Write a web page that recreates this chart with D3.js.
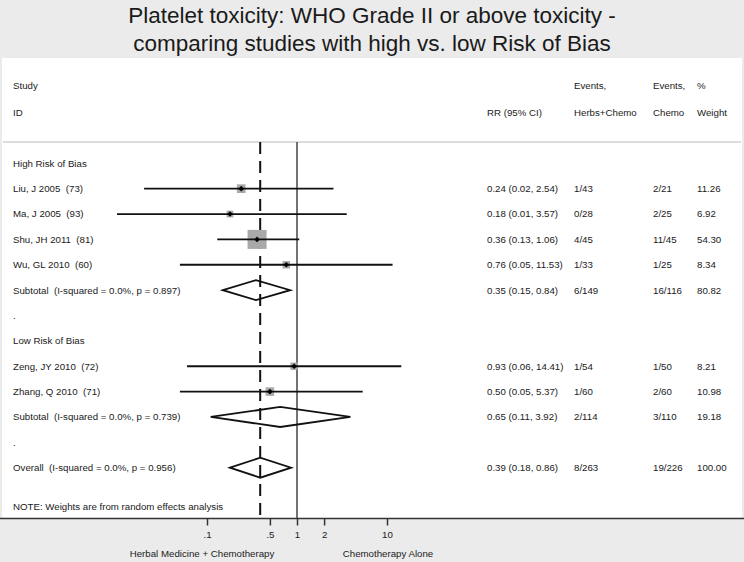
<!DOCTYPE html>
<html>
<head>
<meta charset="utf-8">
<script src="https://cdn.jsdelivr.net/npm/d3@7"></script>
<style>
  html, body { margin: 0; padding: 0; background: #ebebeb; }
  svg { display: block; }
  text { font-family: "Liberation Sans", Arial, Helvetica, sans-serif; fill: #1a1a1a; white-space: pre; }
</style>
</head>
<body>
<svg id="chart" width="744" height="562"></svg>
<script>
// ---------- data ----------
const titleLines = ["Platelet toxicity: WHO Grade II or above toxicity -", "comparing studies with high vs. low Risk of Bias"];
const studies   = ["Liu, J 2005  (73)", "Ma, J 2005  (93)", "Shu, JH 2011  (81)", "Wu, GL 2010  (60)", "Zeng, JY 2010  (72)", "Zhang, Q 2010  (71)"];
const studyGroup = [0, 0, 0, 0, 1, 1];
const rr        = [0.24, 0.18, 0.36, 0.76, 0.93, 0.50];
const rrLow     = [0.02, 0.01, 0.13, 0.05, 0.06, 0.05];
const rrHigh    = [2.54, 3.57, 1.06, 11.53, 14.41, 5.37];
const eventsHC  = ["1/43", "0/28", "4/45", "1/33", "1/54", "1/60"];
const eventsC   = ["2/21", "2/25", "11/45", "1/25", "1/50", "2/60"];
const weights   = [11.26, 6.92, 54.30, 8.34, 8.21, 10.98];

const groupNames   = ["High Risk of Bias", "Low Risk of Bias"];
const subLabels    = ["Subtotal  (I-squared = 0.0%, p = 0.897)", "Subtotal  (I-squared = 0.0%, p = 0.739)"];
const subRR        = [0.35, 0.65];
const subLow       = [0.15, 0.11];
const subHigh      = [0.84, 3.92];
const subEventsHC  = ["6/149", "2/114"];
const subEventsC   = ["16/116", "3/110"];
const subWeights   = [80.82, 19.18];

const overallLabel = "Overall  (I-squared = 0.0%, p = 0.956)";
const overallRR = 0.39, overallLow = 0.18, overallHigh = 0.86;
const overallEventsHC = "8/263", overallEventsC = "19/226", overallWeight = 100.00;

const tickValues = [0.1, 0.5, 1, 2, 10];
const tickLabels = [".1", ".5", "1", "2", "10"];
const favourLeft = "Herbal Medicine + Chemotherapy";
const favourRight = "Chemotherapy Alone";
const noteText = "NOTE: Weights are from random effects analysis";

// ---------- helpers ----------
const fmt = d3.format(".2f");
const ciText = (e, l, h) => `${fmt(e)} (${fmt(l)}, ${fmt(h)})`;

// build rows
const rows = [];
groupNames.forEach((g, gi) => {
  rows.push({type: "group", label: g});
  studies.forEach((s, i) => {
    if (studyGroup[i] === gi) rows.push({type: "study", label: s, est: rr[i], lo: rrLow[i], hi: rrHigh[i], ehc: eventsHC[i], ec: eventsC[i], w: weights[i]});
  });
  rows.push({type: "sub", label: subLabels[gi], est: subRR[gi], lo: subLow[gi], hi: subHigh[gi], ehc: subEventsHC[gi], ec: subEventsC[gi], w: subWeights[gi]});
  rows.push({type: "blank", label: "."});
});
rows.push({type: "sub", label: overallLabel, est: overallRR, lo: overallLow, hi: overallHigh, ehc: overallEventsHC, ec: overallEventsC, w: overallWeight});

// ---------- layout ----------
const W = 744, H = 562;
const svg = d3.select("#chart");
const fs = 9.7;

const x = d3.scaleLog().domain([0.1, 10]).range([207, 387]);
const y = d3.scaleLinear().domain([0, rows.length - 1]).range([163.3, 467.7]);
const boxSize = d3.scaleSqrt().domain([0, d3.max(weights)]).range([0, 19]);

const topBand = 58, axisY = 518.5, sepY = 142;

// white panel
svg.append("rect").attr("x", 2).attr("y", topBand).attr("width", W - 4).attr("height", axisY - topBand).attr("fill", "#fff");

// title
svg.selectAll("text.title").data(titleLines).join("text")
  .attr("class", "title")
  .attr("x", W / 2).attr("y", (d, i) => 15 + i * 27.5)
  .attr("dy", "0.36em")
  .attr("text-anchor", "middle")
  .style("font-size", "22.5px")
  .text(d => d);

// header
const colRR = 487, colHC = 574, colC = 653, colW = 697, colStudy = 13;
const headers = [
  {x: colStudy, y: 86, t: "Study"}, {x: colStudy, y: 113, t: "ID"},
  {x: colRR, y: 113, t: "RR (95% CI)"},
  {x: colHC, y: 86, t: "Events,"}, {x: colHC, y: 113, t: "Herbs+Chemo"},
  {x: colC, y: 86, t: "Events,"}, {x: colC, y: 113, t: "Chemo"},
  {x: colW, y: 86, t: "%"}, {x: colW, y: 113, t: "Weight"}
];
svg.selectAll("text.hdr").data(headers).join("text")
  .attr("class", "hdr").attr("x", d => d.x).attr("y", d => d.y).attr("dy", "0.35em")
  .style("font-size", fs + "px").text(d => d.t);

// separator
svg.append("line").attr("x1", 3).attr("x2", 741).attr("y1", sepY).attr("y2", sepY)
  .attr("stroke", "#b8b8b8").attr("stroke-width", 1);

// reference lines
svg.append("line").attr("x1", x(1)).attr("x2", x(1)).attr("y1", sepY).attr("y2", axisY)
  .attr("stroke", "#444").attr("stroke-width", 1.5);
svg.append("line").attr("x1", x(overallRR)).attr("x2", x(overallRR)).attr("y1", sepY).attr("y2", axisY)
  .attr("stroke", "#111").attr("stroke-width", 2).attr("stroke-dasharray", "12,7");

// row labels
const g = svg.append("g");
rows.forEach((r, i) => {
  g.append("text").attr("x", colStudy).attr("y", y(i)).attr("dy", "0.35em")
    .style("font-size", fs + "px").text(r.label);
  if (r.type === "study" || r.type === "sub") {
    g.append("text").attr("x", colRR).attr("y", y(i)).attr("dy", "0.35em").style("font-size", fs + "px").text(ciText(r.est, r.lo, r.hi));
    g.append("text").attr("x", colHC).attr("y", y(i)).attr("dy", "0.35em").style("font-size", fs + "px").text(r.ehc);
    g.append("text").attr("x", colC).attr("y", y(i)).attr("dy", "0.35em").style("font-size", fs + "px").text(r.ec);
    g.append("text").attr("x", colW).attr("y", y(i)).attr("dy", "0.35em").style("font-size", fs + "px").text(fmt(r.w));
  }
});

// study marks
rows.forEach((r, i) => {
  const cy = y(i);
  if (r.type === "study") {
    const s = boxSize(r.w);
    g.append("rect").attr("x", x(r.est) - s / 2).attr("y", cy - s / 2).attr("width", s).attr("height", s)
      .attr("fill", "#a9a9a9");
    g.append("line").attr("x1", x(r.lo)).attr("x2", x(r.hi)).attr("y1", cy).attr("y2", cy)
      .attr("stroke", "#111").attr("stroke-width", 1.8);
    const m = 2.8;
    g.append("path").attr("d", `M${x(r.est) - m},${cy}L${x(r.est)},${cy - m}L${x(r.est) + m},${cy}L${x(r.est)},${cy + m}Z`)
      .attr("fill", "#000");
  } else if (r.type === "sub") {
    const h = 10;
    g.append("path").attr("d", `M${x(r.lo)},${cy}L${x(r.est)},${cy - h}L${x(r.hi)},${cy}L${x(r.est)},${cy + h}Z`)
      .attr("fill", "none").attr("stroke", "#111").attr("stroke-width", 1.8).attr("stroke-linejoin", "miter");
  }
});

// note
svg.append("text").attr("x", colStudy).attr("y", 507).attr("dy", "0.35em").style("font-size", fs + "px").text(noteText);

// axis
svg.append("line").attr("x1", 0).attr("x2", W).attr("y1", axisY).attr("y2", axisY)
  .attr("stroke", "#333").attr("stroke-width", 1.5);
const axis = d3.axisBottom(x).tickValues(tickValues).tickFormat((d, i) => tickLabels[i]).tickSize(7).tickPadding(6);
const ag = svg.append("g").attr("transform", `translate(0,${axisY})`).call(axis);
ag.select(".domain").remove();
ag.selectAll(".tick line").attr("stroke", "#333").attr("stroke-width", 1.5);
ag.selectAll(".tick text").style("font-size", fs + "px").style("font-family", "Liberation Sans, Arial, sans-serif").attr("fill", "#1a1a1a");

svg.append("text").attr("x", 202).attr("y", 554).attr("dy", "0.35em").attr("text-anchor", "middle").style("font-size", fs + "px").text(favourLeft);
svg.append("text").attr("x", 388).attr("y", 554).attr("dy", "0.35em").attr("text-anchor", "middle").style("font-size", fs + "px").text(favourRight);
</script>
</body>
</html>
